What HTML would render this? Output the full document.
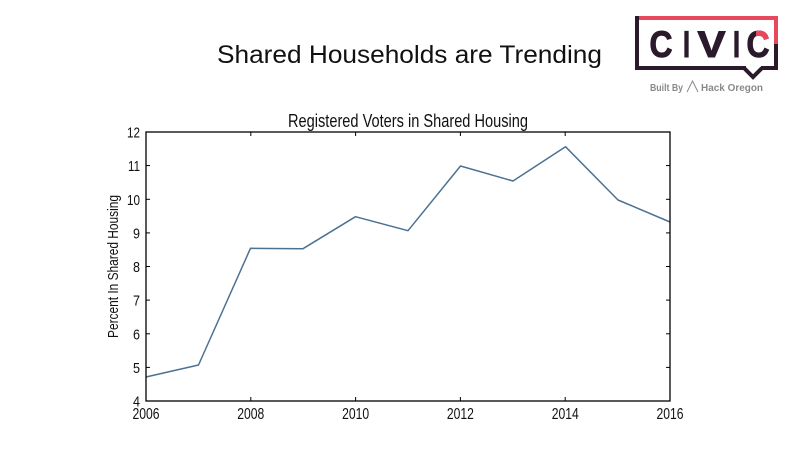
<!DOCTYPE html>
<html>
<head>
<meta charset="utf-8">
<style>
html,body{margin:0;padding:0;background:#fff;}
svg{display:block;}
</style>
</head>
<body>
<svg width="800" height="450" viewBox="0 0 800 450" xmlns="http://www.w3.org/2000/svg">
  <defs>
    <clipPath id="redc"><rect x="756" y="24" width="18" height="20"/></clipPath>
  </defs>
  <rect width="800" height="450" fill="#fff"/>
  <!-- Main title -->
  <text x="217" y="63" font-family="Liberation Sans, sans-serif" font-size="25" fill="#111" textLength="385" lengthAdjust="spacingAndGlyphs">Shared Households are Trending</text>

  <!-- Logo -->
  <g>
    <rect x="635" y="16" width="4" height="54" fill="#2a1a2c"/>
    <rect x="639" y="16" width="139" height="4" fill="#e8485c"/>
    <rect x="774" y="16" width="4" height="28" fill="#e8485c"/>
    <rect x="774" y="44" width="4" height="26" fill="#2a1a2c"/>
    <rect x="635" y="66" width="111" height="4" fill="#2a1a2c"/>
    <rect x="761" y="66" width="17" height="4" fill="#2a1a2c"/>
    <polyline points="744,68 753,77 762,68" fill="none" stroke="#2a1a2c" stroke-width="4"/>
    <g font-family="Liberation Sans, sans-serif" font-weight="bold" font-size="37" fill="#2a1a2c" stroke="#2a1a2c" stroke-width="1" text-anchor="middle">
      <text x="661" y="57" textLength="23" lengthAdjust="spacingAndGlyphs">C</text>
      <text x="686.5" y="57" textLength="7" lengthAdjust="spacingAndGlyphs">I</text>
      <text x="711.5" y="57" textLength="28" lengthAdjust="spacingAndGlyphs">V</text>
      <text x="736.5" y="57" textLength="7" lengthAdjust="spacingAndGlyphs">I</text>
      <text x="758" y="57" textLength="23" lengthAdjust="spacingAndGlyphs">C</text>
      <text x="758" y="57" textLength="23" lengthAdjust="spacingAndGlyphs" fill="#e8485c" stroke="#e8485c" clip-path="url(#redc)">C</text>
    </g>
    <text x="650" y="91" font-family="Liberation Sans, sans-serif" font-weight="bold" font-size="10" fill="#8a8a8a" textLength="33" lengthAdjust="spacingAndGlyphs">Built By</text>
    <path d="M687,92 L692.5,81 L698,92" fill="none" stroke="#8a8a8a" stroke-width="1"/>
    <text x="701" y="91" font-family="Liberation Sans, sans-serif" font-weight="bold" font-size="10" fill="#8a8a8a" textLength="62" lengthAdjust="spacingAndGlyphs">Hack Oregon</text>
  </g>

  <!-- Chart title -->
  <text x="408" y="127" text-anchor="middle" font-family="Liberation Sans Narrow, Liberation Sans, sans-serif" font-size="18" fill="#111" textLength="240" lengthAdjust="spacingAndGlyphs">Registered Voters in Shared Housing</text>

  <!-- Y label -->
  <text transform="translate(118,266.5) rotate(-90)" text-anchor="middle" font-family="Liberation Sans Narrow, Liberation Sans, sans-serif" font-size="15" fill="#111" textLength="143" lengthAdjust="spacingAndGlyphs">Percent In Shared Housing</text>

  <!-- Data line -->
  <polyline fill="none" stroke="#4d7193" stroke-width="1.5" stroke-linejoin="round"
    points="146,377 198.5,365 250.5,248.3 303,248.7 355.5,216.7 408,230.7 460.5,166 513,181 565.5,146.7 618,200 670,222"/>

  <!-- Axes frame -->
  <rect x="146" y="132" width="524" height="269" fill="none" stroke="#000" stroke-width="1.3"/>

  <g stroke="#000" stroke-width="1">
    <line x1="250.8" y1="401" x2="250.8" y2="397"/><line x1="250.8" y1="132" x2="250.8" y2="136"/>
    <line x1="355.6" y1="401" x2="355.6" y2="397"/><line x1="355.6" y1="132" x2="355.6" y2="136"/>
    <line x1="460.4" y1="401" x2="460.4" y2="397"/><line x1="460.4" y1="132" x2="460.4" y2="136"/>
    <line x1="565.2" y1="401" x2="565.2" y2="397"/><line x1="565.2" y1="132" x2="565.2" y2="136"/>
    <line x1="146" y1="367.4" x2="150" y2="367.4"/><line x1="670" y1="367.4" x2="666" y2="367.4"/>
    <line x1="146" y1="333.8" x2="150" y2="333.8"/><line x1="670" y1="333.8" x2="666" y2="333.8"/>
    <line x1="146" y1="300.1" x2="150" y2="300.1"/><line x1="670" y1="300.1" x2="666" y2="300.1"/>
    <line x1="146" y1="266.5" x2="150" y2="266.5"/><line x1="670" y1="266.5" x2="666" y2="266.5"/>
    <line x1="146" y1="232.9" x2="150" y2="232.9"/><line x1="670" y1="232.9" x2="666" y2="232.9"/>
    <line x1="146" y1="199.3" x2="150" y2="199.3"/><line x1="670" y1="199.3" x2="666" y2="199.3"/>
    <line x1="146" y1="165.6" x2="150" y2="165.6"/><line x1="670" y1="165.6" x2="666" y2="165.6"/>
  </g>

  <g font-family="Liberation Sans Narrow, Liberation Sans, sans-serif" font-size="15" fill="#111" text-anchor="end">
    <text x="140" y="406.5" textLength="7" lengthAdjust="spacingAndGlyphs">4</text>
    <text x="140" y="372.9" textLength="7" lengthAdjust="spacingAndGlyphs">5</text>
    <text x="140" y="339.3" textLength="7" lengthAdjust="spacingAndGlyphs">6</text>
    <text x="140" y="305.6" textLength="7" lengthAdjust="spacingAndGlyphs">7</text>
    <text x="140" y="272" textLength="7" lengthAdjust="spacingAndGlyphs">8</text>
    <text x="140" y="238.4" textLength="7" lengthAdjust="spacingAndGlyphs">9</text>
    <text x="140" y="204.8" textLength="13" lengthAdjust="spacingAndGlyphs">10</text>
    <text x="140" y="171.1" textLength="12" lengthAdjust="spacingAndGlyphs">11</text>
    <text x="140" y="137.5" textLength="13" lengthAdjust="spacingAndGlyphs">12</text>
  </g>

  <g font-family="Liberation Sans Narrow, Liberation Sans, sans-serif" font-size="16" fill="#111" text-anchor="middle">
    <text x="146" y="419" textLength="27" lengthAdjust="spacingAndGlyphs">2006</text>
    <text x="250.8" y="419" textLength="27" lengthAdjust="spacingAndGlyphs">2008</text>
    <text x="355.6" y="419" textLength="27" lengthAdjust="spacingAndGlyphs">2010</text>
    <text x="460.4" y="419" textLength="27" lengthAdjust="spacingAndGlyphs">2012</text>
    <text x="565.2" y="419" textLength="27" lengthAdjust="spacingAndGlyphs">2014</text>
    <text x="670" y="419" textLength="27" lengthAdjust="spacingAndGlyphs">2016</text>
  </g>
</svg>
</body>
</html>
